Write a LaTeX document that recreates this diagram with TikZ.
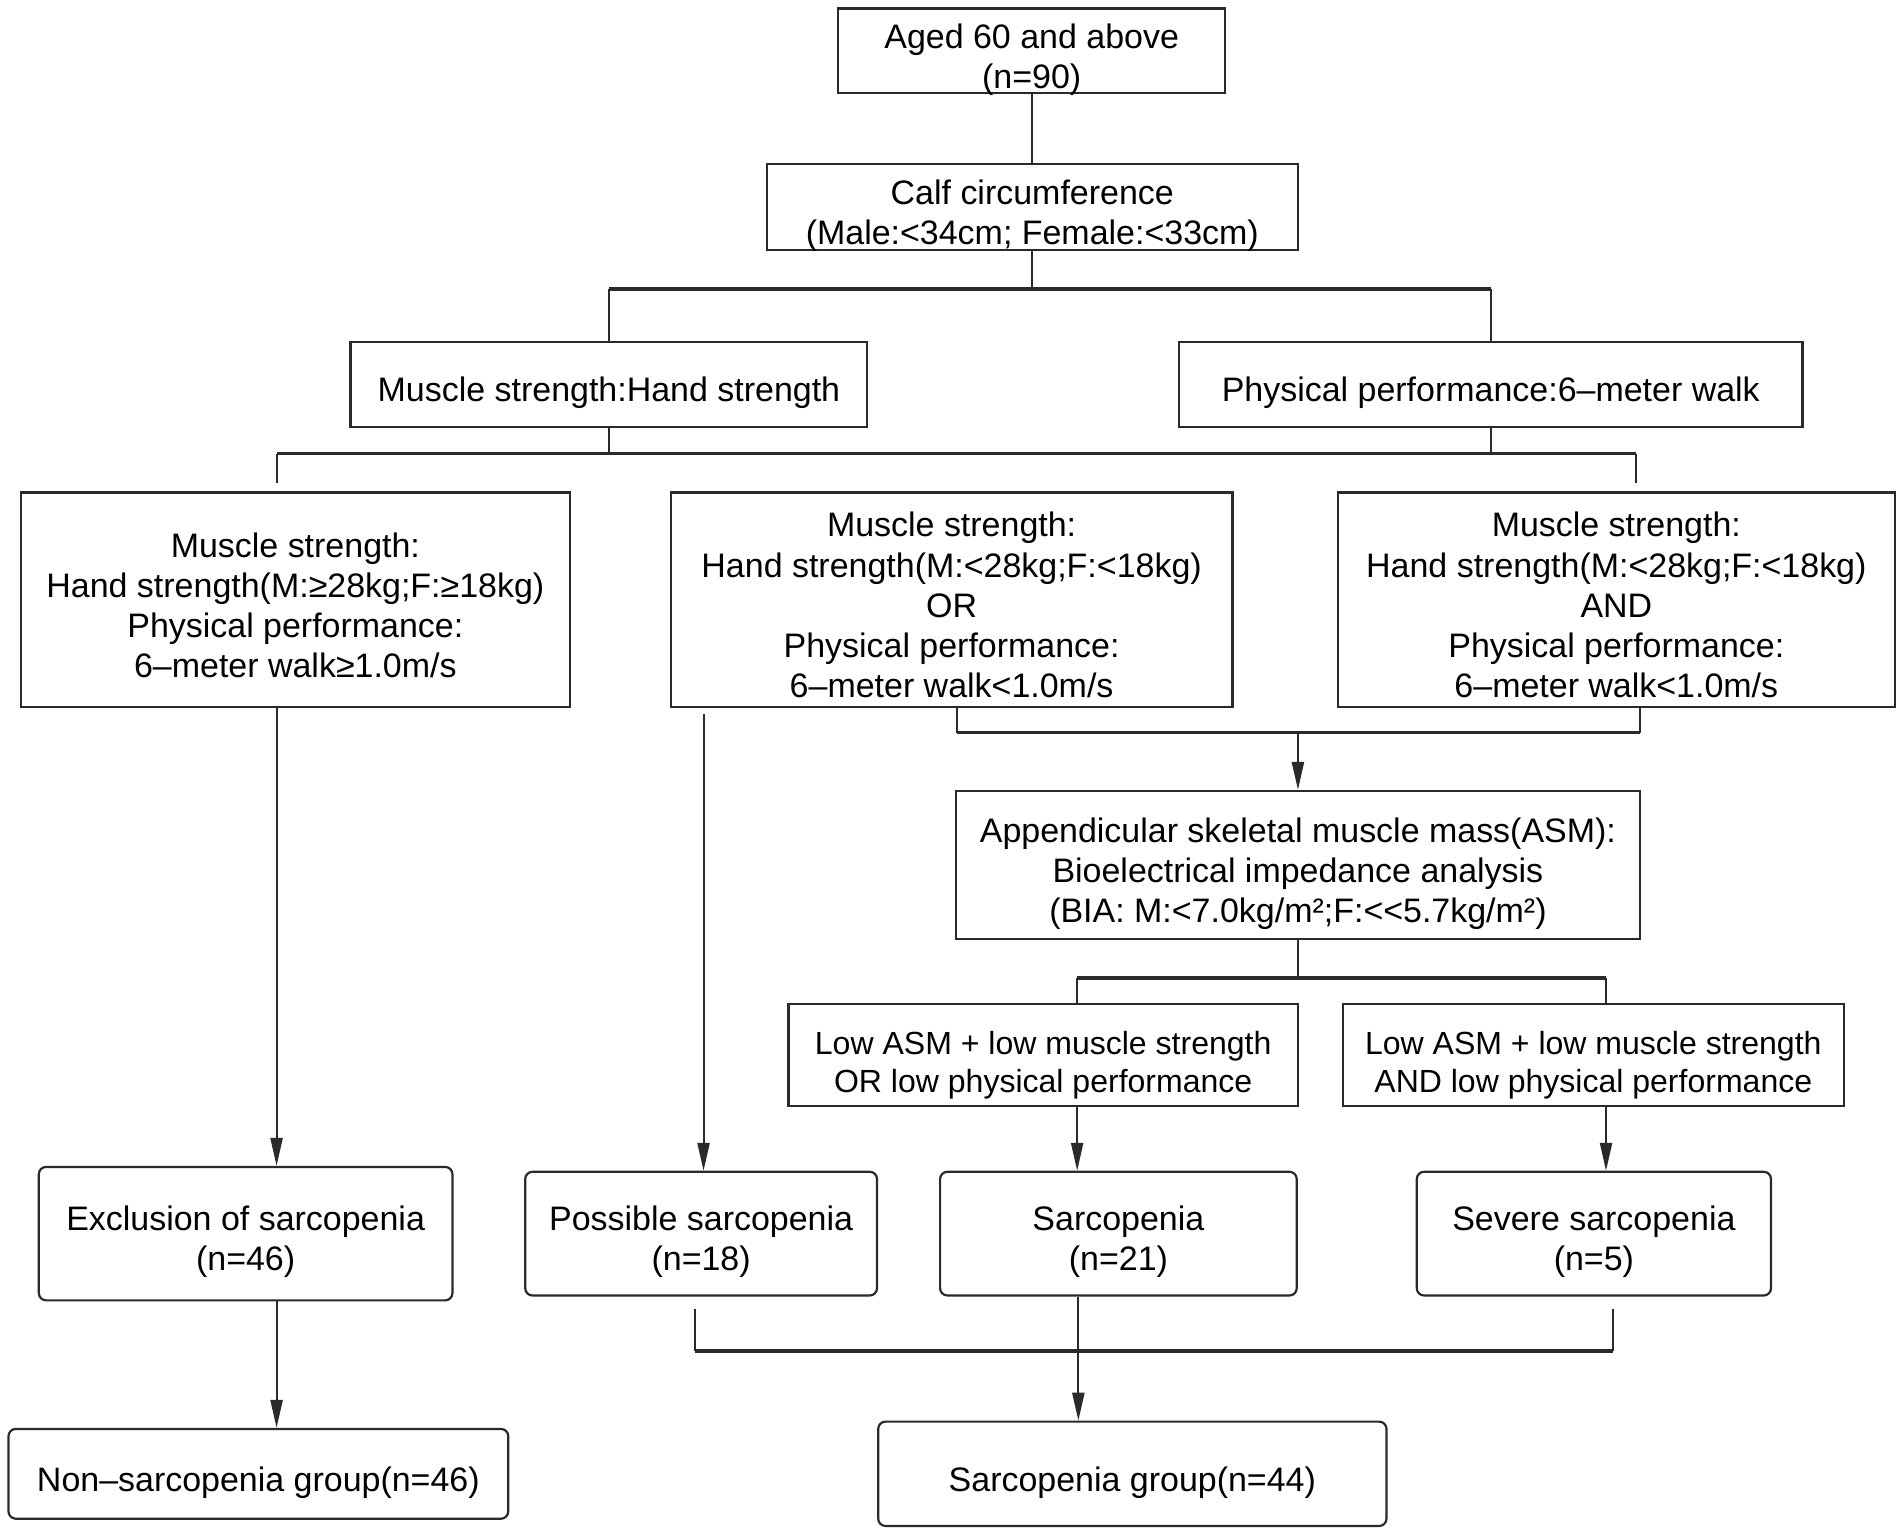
\documentclass[tikz,border=0pt]{standalone}
\usepackage{fontspec}
\setmainfont{Liberation Sans}
\usetikzlibrary{arrows.meta,calc}
\definecolor{linecol}{HTML}{2A2A2A}
\newcommand\boxtxt[2][3.8pt]{\raisebox{-#1}[\height][\depth]{\begin{tabular}{@{}c@{}}#2\end{tabular}}}
\begin{document}
\begin{tikzpicture}[x=0.5pt,y=-0.5pt,
 box/.style={draw=linecol, line width=0.9pt, inner sep=0pt, fill=white,
   font=\fontsize{14}{16.5}\selectfont},
 smallbox/.style={box, font=\fontsize{13.2}{15.5}\selectfont},
 rbox/.style={box, rounded corners=3pt},
 conn/.style={draw=linecol, line width=0.8pt},
 bus/.style={draw=linecol, line width=1.5pt},
 arr/.style={conn, -{Triangle[length=11.5pt,width=5pt]}}]
\useasboundingbox (0,0) rectangle (1568,1266.3);
% boxes
\node[box, minimum width=159.5pt, minimum height=35pt] (top) at (850.5,42) {\boxtxt{Aged 60 and above\\(n=90)}};
\node[box, minimum width=219pt, minimum height=35.5pt] (calf) at (851,170.5) {\boxtxt{Calf circumference\\(Male:<34cm; Female:<33cm)}};
\node[box, minimum width=213pt, minimum height=35pt] (muscle) at (502,317) {\boxtxt{Muscle strength:Hand strength}};
\node[box, minimum width=257pt, minimum height=35pt] (phys) at (1229,317) {\boxtxt{Physical performance:6–meter walk}};
\node[box, minimum width=226.5pt, minimum height=88.5pt] (L3) at (243.5,494.5) {\boxtxt{Muscle strength:\\Hand strength(M:≥28kg;F:≥18kg)\\Physical performance:\\6–meter walk≥1.0m/s}};
\node[box, minimum width=231.5pt, minimum height=88.5pt] (M3) at (784.5,494.5) {\boxtxt{Muscle strength:\\Hand strength(M:<28kg;F:<18kg)\\OR\\Physical performance:\\6–meter walk<1.0m/s}};
\node[box, minimum width=229.5pt, minimum height=88.5pt] (R3) at (1332.5,494.5) {\boxtxt{Muscle strength:\\Hand strength(M:<28kg;F:<18kg)\\AND\\Physical performance:\\6–meter walk<1.0m/s}};
\node[box, minimum width=282pt, minimum height=61pt] (asm) at (1070,713) {\boxtxt{Appendicular skeletal muscle mass(ASM):\\Bioelectrical impedance analysis\\(BIA: M:<7.0kg/m²;F:<\kern0pt<5.7kg/m²)}};
\node[smallbox, minimum width=210pt, minimum height=42pt] (low1) at (860,870) {\boxtxt[4.4pt]{Low ASM + low muscle strength\\OR low physical performance}};
\node[smallbox, minimum width=206.5pt, minimum height=42pt] (low2) at (1313.5,870) {\boxtxt[4.4pt]{Low ASM + low muscle strength\\AND low physical performance}};
\node[rbox, minimum width=170.5pt, minimum height=55pt] (excl) at (202.5,1017) {\boxtxt{Exclusion of sarcopenia\\(n=46)}};
\node[rbox, minimum width=145pt, minimum height=51pt] (poss) at (578,1017) {\boxtxt{Possible sarcopenia\\(n=18)}};
\node[rbox, minimum width=147pt, minimum height=51pt] (sarc) at (922,1017) {\boxtxt{Sarcopenia\\(n=21)}};
\node[rbox, minimum width=146pt, minimum height=51pt] (sev) at (1314,1017) {\boxtxt{Severe sarcopenia\\(n=5)}};
\node[rbox, minimum width=206pt, minimum height=37pt] (nong) at (213,1215) {\boxtxt{Non–sarcopenia group(n=46)}};
\node[rbox, minimum width=209.5pt, minimum height=43pt] (sarcg) at (933.5,1215) {\boxtxt{Sarcopenia group(n=44)}};
% coordinates
\coordinate (b1) at (851,238);
\coordinate (b2L) at (228,374);
\coordinate (b2R) at (1349,374);
\coordinate (pm) at ($(M3.south)+(-204.5,5)$);
\coordinate (m3b) at ($(M3.south)+(4.5,0)$);
\coordinate (r3b) at ($(R3.south)+(19.5,0)$);
\coordinate (b3) at (1070,604);
\coordinate (b4) at (1070,806);
\coordinate (b4L) at (888,806);
\coordinate (b4R) at (1324,806);
\coordinate (b5L) at (573,1114);
\coordinate (b5R) at (1330,1114);
\coordinate (b5M) at (889,1114);
% connectors
\draw[conn] (top.south) -- (top.south |- calf.north);
\draw[conn] (calf.south) -- (b1);
\draw[bus] (muscle.north |- b1) -- (phys.north |- b1);
\draw[conn] (muscle.north |- b1) -- (muscle.north);
\draw[conn] (phys.north |- b1) -- (phys.north);
\draw[conn] (muscle.south) -- (muscle.south |- b2L);
\draw[conn] (phys.south) -- (phys.south |- b2L);
\draw[bus] (b2L) -- (b2R);
\draw[conn] (b2L) -- ++(0,24);
\draw[conn] (b2R) -- ++(0,24);
\draw[arr] (L3.south -| b2L) -- (excl.north -| b2L);
\draw[arr] (pm) -- (poss.north -| pm);
\draw[conn] (m3b) -- (m3b |- b3);
\draw[conn] (r3b) -- (r3b |- b3);
\draw[bus] (m3b |- b3) -- (r3b |- b3);
\draw[arr] (b3) -- (asm.north);
\draw[conn] (asm.south) -- (b4);
\draw[bus] (b4L) -- (b4R);
\draw[conn] (b4L) -- (b4L |- low1.north);
\draw[conn] (b4R) -- (b4R |- low2.north);
\draw[arr] (low1.south -| b4L) -- (sarc.north -| b4L);
\draw[arr] (low2.south -| b4R) -- (sev.north -| b4R);
\draw[conn] ([yshift=-5pt]poss.south -| b5L) -- (b5L);
\draw[conn] ([yshift=-5pt]sev.south -| b5R) -- (b5R);
\draw[bus] (b5L) -- (b5R);
\draw[arr] (sarc.south -| b5M) -- (sarcg.north -| b5M);
\draw[arr] (excl.south -| b2L) -- (nong.north -| b2L);
\end{tikzpicture}
\end{document}
